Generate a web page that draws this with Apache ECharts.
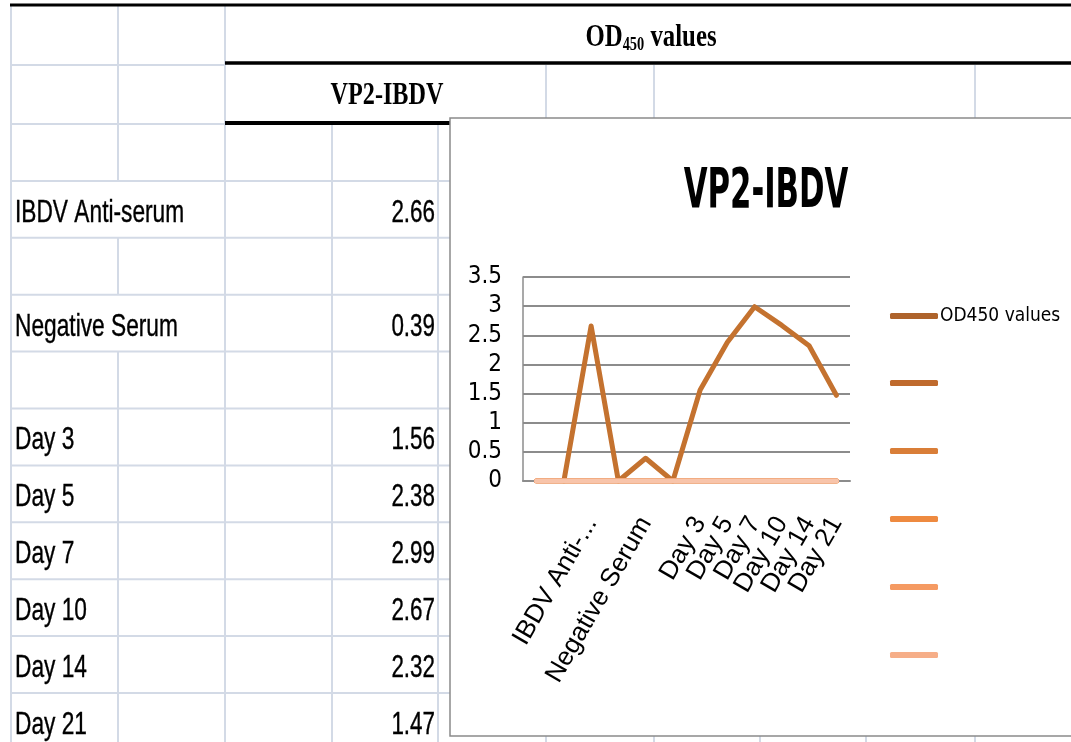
<!DOCTYPE html>
<html>
<head>
<meta charset="utf-8">
<script src="https://cdn.jsdelivr.net/npm/echarts@6/dist/echarts.min.js"></script>
<style>
html,body{margin:0;padding:0;background:#fff;}
#chart{width:1071px;height:742px;}
</style>
</head>
<body>
<div id="chart"></div>
<script>
// ---- data ----
const categories = ["", "", "IBDV Anti-serum", "", "Negative Serum", "", "Day 3", "Day 5", "Day 7", "Day 10", "Day 14", "Day 21"];
const axisLabels = ["", "", "IBDV Anti-...", "", "Negative Serum", "", "Day 3", "Day 5", "Day 7", "Day 10", "Day 14", "Day 21"];
const odValues   = [null, 0, 2.66, 0, 0.39, 0, 1.56, 2.38, 2.99, 2.67, 2.32, 1.47];
const series2    = [0, 0, 0, 0, 0, 0, 0, 0, 0, 0, 0, 0];
const series3    = [0, 0, 0, 0, 0, 0, 0, 0, 0, 0, 0, 0];
const series4    = [0, 0, 0, 0, 0, 0, 0, 0, 0, 0, 0, 0];
const series5    = [0, 0, 0, 0, 0, 0, 0, 0, 0, 0, 0, 0];
const series6    = [0, 0, 0, 0, 0, 0, 0, 0, 0, 0, 0, 0];
const seriesNames = ["OD450 values", "Series 2", "Series 3", "Series 4", "Series 5", "Series 6"];
const chartTitle = "VP2-IBDV";
const sheetHeader = "VP2-IBDV";

// ---- styling ----
const NARROW = "'Liberation Sans Narrow','DejaVu Sans Condensed','Arial Narrow',sans-serif";
const colors = ["#C4722F", "#BF6A2D", "#D97E38", "#EE8A40", "#F59A62", "#F8C4AA"];
const legendColors = ["#AE632B", "#BF6A2D", "#D97E38", "#EE8A40", "#F59A62", "#F6AE88"];
const GRIDC = "#D3DAE6";

const allSeriesData = [odValues, series2, series3, series4, series5, series6];

// ---- spreadsheet background drawn as graphic elements ----
const g = [];
function line(x1, y1, x2, y2, color, w, z) {
  g.push({type:'line', z: z || 1, silent:true, shape:{x1, y1, x2, y2}, style:{stroke: color, lineWidth: w}});
}
function rowTop(i){ return 124 + (i - 1) * 56.9; }
// vertical gridlines
line(11, 5, 11, 742, GRIDC, 2);
line(225, 5, 225, 742, GRIDC, 2);
line(332, 124, 332, 742, GRIDC, 2);
line(438, 124, 438, 742, GRIDC, 2);
line(118, 5, 118, 124, GRIDC, 2);
for (let i = 1; i < categories.length; i++) {
  if (categories[i] === "" || categories[i].length < 8) line(118, rowTop(i), 118, rowTop(i + 1), GRIDC, 2);
}
[546, 654, 975].forEach(x => line(x, 65, x, 118, GRIDC, 2));
[546, 654, 760, 866, 975].forEach(x => line(x, 736, x, 742, GRIDC, 2));
// horizontal gridlines
line(11, 65, 225, 65, GRIDC, 2);
line(11, 124, 225, 124, GRIDC, 2);
for (let i = 2; i <= categories.length; i++) line(11, rowTop(i), 450, rowTop(i), GRIDC, 2);
// thick borders
line(10, 5, 1071, 5, "#000", 3, 2);
line(225, 63, 1071, 63, "#000", 3.5, 2);
line(225, 123, 450, 123, "#000", 4, 2);
// header texts
g.push({type:'text', z:2, silent:true, x:387, y:96, scaleX:0.78,
  style:{text: sheetHeader, align:'center', verticalAlign:'middle', fill:'#000',
         font:"bold 31px 'Liberation Serif','Times New Roman',serif"}});
g.push({type:'text', z:2, silent:true, x:651, y:38, scaleX:0.8,
  style:{text:'{a|OD}{s|450}{a| values}', align:'center', verticalAlign:'middle', fill:'#000',
    rich:{
      a:{fontFamily:"'Liberation Serif',serif", fontWeight:'bold', fontSize:31, fill:'#000'},
      s:{fontFamily:"'Liberation Serif',serif", fontWeight:'bold', fontSize:18, fill:'#000', padding:[14,0,0,0]}
    }}});
// row label / value cells
for (let i = 0; i < categories.length; i++) {
  if (!categories[i]) continue;
  const cy = rowTop(i) + 32;
  g.push({type:'text', z:2, silent:true, x:15, y:cy, scaleX:0.71,
    style:{text: categories[i], align:'left', verticalAlign:'middle', fill:'#000', stroke:'#000', lineWidth:0.4,
           font:"32px 'Liberation Sans',Arial,sans-serif"}});
  g.push({type:'text', z:2, silent:true, x:435, y:cy, scaleX:0.7,
    style:{text: odValues[i].toFixed(2), align:'right', verticalAlign:'middle', fill:'#000', stroke:'#000', lineWidth:0.4,
           font:"32px 'Liberation Sans',Arial,sans-serif"}});
}
// chart area box
g.push({type:'rect', z:3, silent:true, shape:{x:450, y:118, width:640, height:618},
  style:{fill:'#fff', stroke:'#8A8A8A', lineWidth:1.5}});
// chart title
g.push({type:'text', z:20, silent:true, x:766, y:192, scaleX:0.61,
  style:{text: chartTitle, align:'center', verticalAlign:'middle', fill:'#000',
         font:"bold 56px " + NARROW}});

// ---- legends (one per entry to control spacing) ----
const legends = seriesNames.map((n, k) => ({
  z: 20,
  orient: 'vertical',
  left: 885,
  top: k === 0 ? 315 - 18 : 315 + 68 * k - 8,
  data: [{name: n, itemStyle: {color: legendColors[k]}}],
  icon: 'roundRect',
  itemWidth: 48,
  itemHeight: 6,
  itemGap: 0,
  selectedMode: false,
  formatter: name => (name === seriesNames[0] ? name : ''),
  textStyle: {fontFamily: NARROW, fontSize: 19, color: '#000', lineHeight: 28, padding: [0, 0, 0, -3]}
}));

const chart = echarts.init(document.getElementById('chart'), null, {renderer:'canvas'});
chart.setOption({
  animation: false,
  backgroundColor: '#fff',
  graphic: {elements: g},
  legend: legends,
  grid: {left: 523, top: 277, width: 327, height: 204, containLabel: false},
  xAxis: {
    type: 'category', data: axisLabels, boundaryGap: true, z: 10,
    axisLine: {show: true, lineStyle: {color: '#8C8C8C', width: 2}},
    axisTick: {show: false},
    splitLine: {show: false},
    axisLabel: {interval: 0, rotate: 60, margin: 38, fontSize: 26, color: '#000',
      fontFamily: "'Liberation Sans',Arial,sans-serif", padding: [22, 0, 0, 0]}
  },
  yAxis: {
    type: 'value', min: 0, max: 3.5, interval: 0.5, z: 10,
    axisLine: {show: true, lineStyle: {color: '#8C8C8C', width: 1.5}},
    axisTick: {show: false},
    splitLine: {show: true, lineStyle: {color: '#8C8C8C', width: 2}},
    axisLabel: {margin: 21, fontSize: 24, color: '#000', fontFamily: NARROW}
  },
  series: seriesNames.map((n, k) => ({
    name: n, type: 'line', z: 12 + k, data: allSeriesData[k],
    symbol: 'none', connectNulls: false,
    lineStyle: {color: colors[k], width: 5, cap: 'round', join: 'round'},
    itemStyle: {color: legendColors[k]}
  }))
});
</script>
</body>
</html>
